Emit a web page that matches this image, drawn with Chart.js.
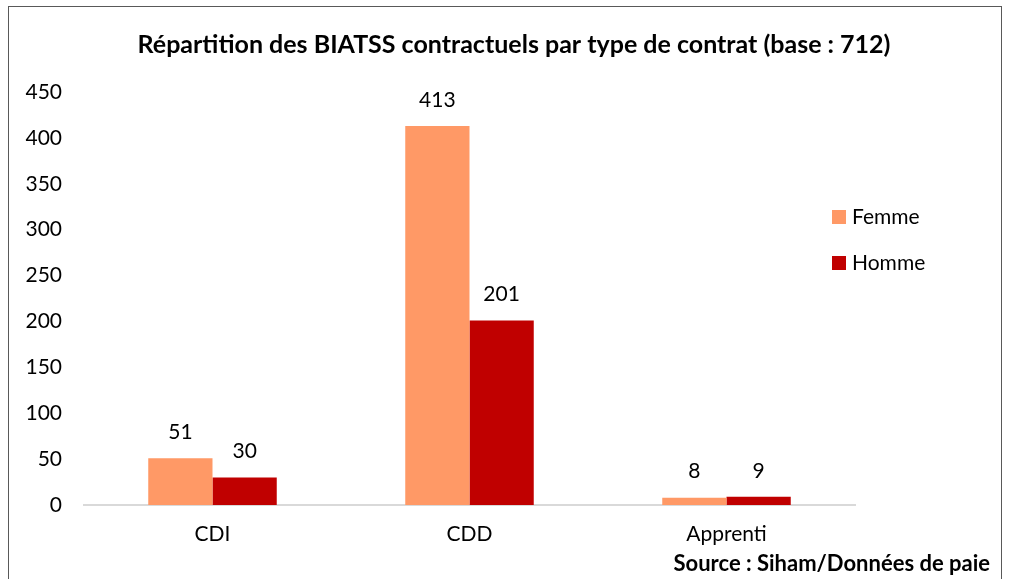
<!DOCTYPE html>
<html>
<head>
<meta charset="utf-8">
<script src="https://cdn.jsdelivr.net/npm/chart.js@4/dist/chart.umd.min.js"></script>
<style>
  html, body { margin: 0; padding: 0; background: #fff; }
  #wrap { position: relative; width: 1010px; height: 579px; overflow: hidden; }
  #frame { position: absolute; left: 8px; top: 6px; width: 994px; height: 600px;
           border: 1.5px solid #595959; box-sizing: border-box; }
  #chart { position: absolute; left: 0; top: 0; }
  #source { position: absolute; right: 20px; top: 549px; font: bold 22px Lato, sans-serif; color: #000; }
</style>
</head>
<body>
<div id="wrap">
  <div id="frame"></div>
  <canvas id="chart" width="1010" height="579"></canvas>
  <div id="source">Source : Siham/Données de paie</div>
</div>
<script>
const categories = ['CDI', 'CDD', 'Apprenti'];
const femme = [51, 413, 8];
const homme = [30, 201, 9];
const seriesNames = ['Femme', 'Homme'];
const seriesColors = ['#FF9966', '#C00000'];
const chartTitle = 'Répartition des BIATSS contractuels par type de contrat (base : 712)';

const FONT = 'Lato, sans-serif';

// value labels above each bar
const valueLabels = {
  id: 'valueLabels',
  afterDatasetsDraw(chart) {
    const ctx = chart.ctx;
    ctx.save();
    ctx.font = '21px ' + FONT;
    ctx.fillStyle = '#000';
    ctx.textAlign = 'center';
    ctx.textBaseline = 'middle';
    chart.data.datasets.forEach((ds, i) => {
      chart.getDatasetMeta(i).data.forEach((bar, j) => {
        ctx.fillText(ds.data[j], bar.x, bar.y - 26);
      });
    });
    ctx.restore();
  }
};

// title and legend drawn at fixed spots like the original
const extras = {
  id: 'extras',
  afterDraw(chart) {
    const ctx = chart.ctx;
    ctx.save();
    ctx.font = 'bold 25px ' + FONT;
    ctx.fillStyle = '#000';
    ctx.textAlign = 'center';
    ctx.textBaseline = 'middle';
    ctx.fillText(chartTitle, 514, 45);

    ctx.font = '21px ' + FONT;
    ctx.textAlign = 'left';
    chart.data.datasets.forEach((ds, i) => {
      const y = 217 + i * 46;
      ctx.fillStyle = ds.backgroundColor;
      ctx.fillRect(832, y - 7, 14, 14);
      ctx.fillStyle = '#000';
      ctx.fillText(ds.label, 852, y);
    });
    ctx.restore();
  }
};

new Chart(document.getElementById('chart'), {
  type: 'bar',
  data: {
    labels: categories,
    datasets: [
      { label: seriesNames[0], data: femme, backgroundColor: seriesColors[0] },
      { label: seriesNames[1], data: homme, backgroundColor: seriesColors[1] }
    ]
  },
  options: {
    responsive: false,
    animation: false,
    datasets: { bar: { barPercentage: 1, categoryPercentage: 0.5 } },
    layout: { padding: { left: 0, right: 155, top: 92, bottom: 34 } },
    plugins: { legend: { display: false }, title: { display: false }, tooltip: { enabled: false } },
    scales: {
      x: {
        grid: { display: false, drawTicks: false },
        border: { color: '#D9D9D9', width: 2 },
        ticks: { color: '#000', font: { family: FONT, size: 21 }, padding: 17 },
        afterFit(scale) { scale.height = 40; }
      },
      y: {
        min: 0, max: 450,
        grid: { display: false, drawTicks: false },
        border: { display: false },
        ticks: { stepSize: 50, color: '#000', font: { family: FONT, size: 21 }, padding: 22 },
        afterFit(scale) { scale.width = 84; }
      }
    }
  },
  plugins: [valueLabels, extras]
});
</script>
</body>
</html>
